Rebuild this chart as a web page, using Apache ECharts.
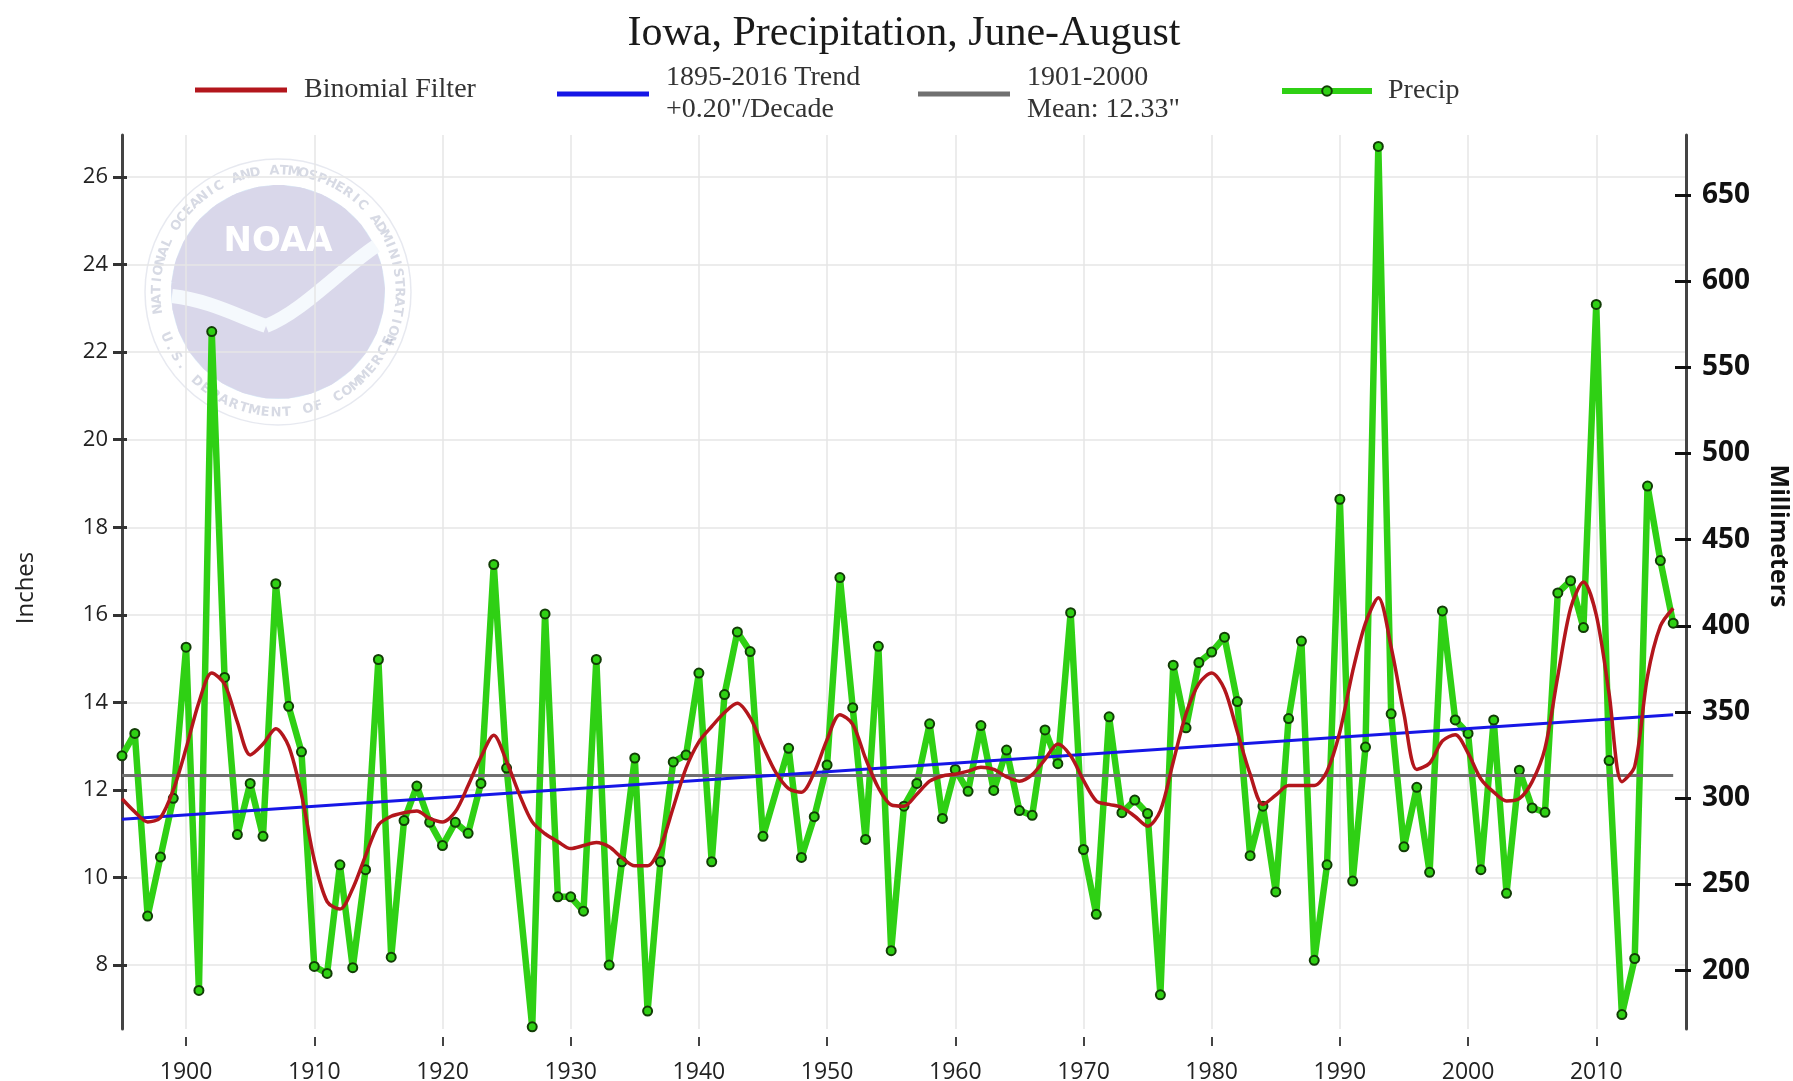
<!DOCTYPE html>
<html>
<head>
<meta charset="utf-8">
<script src="https://cdn.jsdelivr.net/npm/echarts@6/dist/echarts.min.js"></script>
<style>
html,body{margin:0;padding:0;background:#ffffff;}
#chart{width:1793px;height:1081px;}
</style>
</head>
<body>
<div id="chart"></div>
<script>
// ---------------- DATA ----------------
const years = [
  1895,1896,1897,1898,1899,
  1900,1901,1902,1903,1904,1905,1906,1907,1908,1909,
  1910,1911,1912,1913,1914,1915,1916,1917,1918,1919,
  1920,1921,1922,1923,1924,1925,1926,1927,1928,1929,
  1930,1931,1932,1933,1934,1935,1936,1937,1938,1939,
  1940,1941,1942,1943,1944,1945,1946,1947,1948,1949,
  1950,1951,1952,1953,1954,1955,1956,1957,1958,1959,
  1960,1961,1962,1963,1964,1965,1966,1967,1968,1969,
  1970,1971,1972,1973,1974,1975,1976,1977,1978,1979,
  1980,1981,1982,1983,1984,1985,1986,1987,1988,1989,
  1990,1991,1992,1993,1994,1995,1996,1997,1998,1999,
  2000,2001,2002,2003,2004,2005,2006,2007,2008,2009,
  2010,2011,2012,2013,2014,2015,2016
];
// June-August precipitation, inches (null = no marker in source)
const precipInches = [
  12.78,13.29,9.12,10.47,11.81,
  15.26,7.42,22.47,14.57,10.98,12.15,10.94,16.71,13.91,12.87,
  7.97,7.81,10.29,7.94,10.18,14.98,8.18,11.30,12.09,11.26,
  10.73,11.26,11.01,12.15,17.15,12.50,null,6.59,16.02,9.56,
  9.56,9.23,14.98,8.00,10.36,12.73,6.95,10.36,12.64,12.80,
  14.67,10.36,14.18,15.61,15.16,10.94,null,12.95,10.46,11.39,
  12.57,16.85,13.88,10.87,15.28,8.33,11.63,12.15,13.51,11.35,
  12.47,11.97,13.47,11.99,12.91,11.53,11.42,13.37,12.60,16.05,
  10.64,9.16,13.67,11.48,11.77,11.46,7.32,14.85,13.42,14.91,
  15.15,15.49,14.02,10.50,11.63,9.67,13.63,15.40,8.11,10.29,
  18.64,9.92,12.98,26.70,13.74,10.70,12.06,10.12,16.09,13.60,
  13.29,10.18,13.60,9.64,12.45,11.59,11.49,16.50,16.78,15.71,
  23.09,12.67,6.87,8.15,18.94,17.24,15.81
];
// Binomial filter, inches
const binomialFilter = [
  11.80,11.50,11.27,11.37,12.00,
  12.95,14.00,14.67,14.42,13.55,12.80,13.05,13.40,13.00,11.90,
  10.40,9.45,9.28,9.75,10.50,11.20,11.40,11.48,11.52,11.35,
  11.27,11.50,12.10,12.75,13.25,12.65,11.90,11.27,11.00,10.82,
  10.66,10.73,10.80,10.70,10.45,10.27,10.27,10.70,11.60,12.50,
  13.10,13.45,13.77,13.98,13.65,13.00,12.40,12.03,11.95,12.40,
  13.15,13.72,13.50,12.72,12.05,11.66,11.63,11.90,12.20,12.32,
  12.36,12.43,12.52,12.47,12.30,12.20,12.35,12.70,13.05,12.78,
  12.22,11.75,11.67,11.60,11.40,11.17,11.53,12.64,13.74,14.43,
  14.67,14.30,13.33,12.36,11.67,11.88,12.10,12.10,12.10,12.43,
  13.33,14.71,15.81,16.39,15.26,13.74,12.47,12.61,13.12,13.26,
  12.84,12.25,11.95,11.75,11.80,12.19,12.95,14.60,16.15,16.75,
  16.00,14.20,12.19,12.54,14.60,15.74,16.15
];
const trendYears = [1895, 2016];
const trendInches = [11.33, 13.72];
const meanYears = [1895, 2016];
const meanInches = [12.33, 12.33];

const yearTicks = [1900,1910,1920,1930,1940,1950,1960,1970,1980,1990,2000,2010];
const inchTicks = [8,10,12,14,16,18,20,22,24,26];
const mmTicks = [200,250,300,350,400,450,500,550,600,650];

// ---------------- LAYOUT ----------------
const Y_MIN = 6.54, Y_MAX = 26.96, MM_PER_IN = 25.4;
const GRID = {left:122, right:107, top:135, bottom:52};

const pair = (xs, ys) => ys.map((v, i) => [xs[i], v]);

// NOAA watermark (decorative)
function cubicPts(p0, p1, p2, p3, n) {
  const out = [];
  for (let k = 1; k <= n; k++) {
    const t = k / n, u = 1 - t;
    out.push([
      u*u*u*p0[0] + 3*u*u*t*p1[0] + 3*u*t*t*p2[0] + t*t*t*p3[0],
      u*u*u*p0[1] + 3*u*u*t*p1[1] + 3*u*t*t*p2[1] + t*t*t*p3[1]
    ]);
  }
  return out;
}
function buildLogo() {
  const els = [];
  const R = 107;
  els.push({type:'circle', shape:{cx:0, cy:0, r:133}, style:{fill:'rgba(255,255,255,0.6)', stroke:'rgba(215,218,230,0.6)', lineWidth:1.5}});
  els.push({type:'circle', shape:{cx:0, cy:0, r:R}, style:{fill:'#dbedf9'}});
  const a1 = Math.atan2(-10, -106), a2 = Math.atan2(-70, 80) + 2 * Math.PI;
  const pts = [];
  for (let k = 0; k <= 40; k++) {
    const a = a1 + (a2 - a1) * k / 40;
    pts.push([R * Math.cos(a), R * Math.sin(a)]);
  }
  const last = pts[pts.length - 1];
  cubicPts(last, [50, -40], [20, -2], [-12, 18], 20).forEach(p => pts.push(p));
  cubicPts([-12, 18], [-40, 0], [-74, -8], pts[0], 20).forEach(p => pts.push(p));
  els.push({type:'polygon', shape:{points: pts}, style:{fill:'#d9d7ea'}});
  els.push({type:'bezierCurve', shape:{x1:-106, y1:4, cpx1:-70, cpy1:8, cpx2:-40, cpy2:24, x2:-12, y2:34}, style:{fill:null, stroke:'#f5f9fd', lineWidth:14}});
  els.push({type:'bezierCurve', shape:{x1:-12, y1:34, cpx1:24, cpy1:20, cpx2:62, cpy2:-22, x2:98, y2:-46}, style:{fill:null, stroke:'#f5f9fd', lineWidth:14}});
  els.push({type:'text', x:0, y:-50, style:{text:'NOAA', fill:'#ffffff', font:'bold 34px "DejaVu Sans"', align:'center', verticalAlign:'middle'}});
  const ringR = 121;
  const ringFont = 'bold 13px "DejaVu Sans"';
  const ringColor = 'rgba(130,140,170,0.32)';
  const topText = 'NATIONAL OCEANIC AND ATMOSPHERIC ADMINISTRATION';
  const start = 172, end = 383;
  for (let i = 0; i < topText.length; i++) {
    const phi = (start + (end - start) * i / (topText.length - 1)) * Math.PI / 180;
    els.push({type:'text', x: ringR * Math.cos(phi), y: ringR * Math.sin(phi), rotation: 1.5 * Math.PI - phi,
      style:{text: topText[i], fill: ringColor, font: ringFont, align:'center', verticalAlign:'middle'}});
  }
  const botText = 'U.S. DEPARTMENT OF COMMERCE';
  const bs = 158, be = 24;
  for (let i = 0; i < botText.length; i++) {
    const phi = (bs + (be - bs) * i / (botText.length - 1)) * Math.PI / 180;
    els.push({type:'text', x: ringR * Math.cos(phi), y: ringR * Math.sin(phi), rotation: 0.5 * Math.PI - phi,
      style:{text: botText[i], fill: ringColor, font: ringFont, align:'center', verticalAlign:'middle'}});
  }
  return {type:'group', x:278, y:292, z:-10, silent:true, children: els};
}

const serif = '"Liberation Serif", "Times New Roman", serif';
const sans = '"Open Sans", "DejaVu Sans", sans-serif';
const legendText = (padLeft) => ({fontFamily: serif, fontSize: 28, color: '#333', lineHeight: 32, padding: [12, 0, 0, padLeft]});

const GREEN = '#2fd014', RED = '#b3161c', BLUE = '#1616e6', GRAY = '#707070';

const option = {
  backgroundColor: '#ffffff',
  animation: false,
  title: {
    text: 'Iowa, Precipitation, June-August',
    left: 904, top: 13, padding: 0, textAlign: 'center',
    textStyle: {fontFamily: serif, fontSize: 42, fontWeight: 'normal', color: '#1a1a1a'}
  },
  legend: [
    {data:['Binomial Filter'], left:195, top:68, padding:0, icon:'rect', itemWidth:92, itemHeight:5, selectedMode:false, textStyle: legendText(12)},
    {data:['1895-2016 Trend'], left:557, top:56, padding:0, icon:'rect', itemWidth:92, itemHeight:5, selectedMode:false, textStyle: legendText(12),
      formatter: () => '1895-2016 Trend\n+0.20"/Decade'},
    {data:['1901-2000 Mean'], left:918, top:56, padding:0, icon:'rect', itemWidth:92, itemHeight:5, selectedMode:false, textStyle: legendText(12),
      formatter: () => '1901-2000\nMean: 12.33"'},
    {data:['Precip'], left:1279, top:69, padding:0, itemWidth:90, itemHeight:12, selectedMode:false,
      lineStyle: {width: 6}, textStyle: legendText(11)}
  ],
  graphic: [buildLogo()],
  grid: {left: GRID.left, right: GRID.right, top: GRID.top, bottom: GRID.bottom, containLabel: false, outerBoundsMode: 'none'},
  xAxis: {
    type: 'value', min: 1895, max: 2017, offset: 8,
    axisLine: {show: false},
    axisTick: {show: true, length: 9, customValues: yearTicks, lineStyle: {color: '#444', width: 2}},
    axisLabel: {customValues: yearTicks, margin: 24, fontFamily: sans, fontSize: 23, color: '#222', formatter: v => String(v)},
    splitLine: {show: true, lineStyle: {color: '#e6e6e6', width: 1.5}}
  },
  yAxis: [
    {
      type: 'value', position: 'left', min: Y_MIN, max: Y_MAX,
      name: 'Inches', nameLocation: 'middle', nameGap: 84,
      nameTextStyle: {fontFamily: sans, fontSize: 24, color: '#222', padding: [0, 12, 0, 0]},
      axisLine: {show: true, lineStyle: {color: '#444', width: 3}},
      axisTick: {show: true, length: 9, customValues: inchTicks, lineStyle: {color: '#333', width: 3}},
      axisLabel: {customValues: inchTicks, margin: 14, fontFamily: sans, fontSize: 22, color: '#222'},
      splitLine: {show: true, lineStyle: {color: '#e6e6e6', width: 1.5}}
    },
    {
      type: 'value', position: 'right', min: Y_MIN * MM_PER_IN, max: Y_MAX * MM_PER_IN,
      name: 'Millimeters', nameLocation: 'middle', nameGap: 80, nameRotate: -90,
      nameTextStyle: {fontFamily: sans, fontSize: 25, fontWeight: 'bold', color: '#111', padding: [0, 92, 0, 0]},
      axisLine: {show: true, lineStyle: {color: '#444', width: 3}},
      axisTick: {show: true, length: 5, customValues: mmTicks, lineStyle: {color: '#111', width: 3}},
      axisLabel: {customValues: mmTicks, margin: 16, fontFamily: sans, fontSize: 28, fontWeight: 'bold', color: '#111'},
      splitLine: {show: false}
    },
    {
      type: 'value', position: 'left', min: Y_MIN, max: Y_MAX,
      axisLine: {show: false},
      axisTick: {show: true, inside: true, length: 5, customValues: inchTicks, lineStyle: {color: '#333', width: 3}},
      axisLabel: {show: false}, splitLine: {show: false}
    },
    {
      type: 'value', position: 'right', min: Y_MIN * MM_PER_IN, max: Y_MAX * MM_PER_IN,
      axisLine: {show: false},
      axisTick: {show: true, inside: true, length: 11, customValues: mmTicks, lineStyle: {color: '#111', width: 3}},
      axisLabel: {show: false}, splitLine: {show: false}
    }
  ],
  series: [
    {
      name: 'Precip', type: 'line', yAxisIndex: 0, z: 2, clip: false,
      data: pair(years, precipInches), connectNulls: true,
      symbol: 'circle', symbolSize: 9, showSymbol: true,
      lineStyle: {color: GREEN, width: 6.5},
      itemStyle: {color: GREEN, borderColor: '#123d06', borderWidth: 2}
    },
    {
      name: '1901-2000 Mean', type: 'line', yAxisIndex: 0, z: 3,
      data: pair(meanYears, meanInches), symbol: 'none',
      lineStyle: {color: GRAY, width: 3}, itemStyle: {color: GRAY}
    },
    {
      name: '1895-2016 Trend', type: 'line', yAxisIndex: 0, z: 4,
      data: pair(trendYears, trendInches), symbol: 'none',
      lineStyle: {color: BLUE, width: 3}, itemStyle: {color: BLUE}
    },
    {
      name: 'Binomial Filter', type: 'line', yAxisIndex: 0, z: 5,
      data: pair(years, binomialFilter), symbol: 'none', smooth: 0.3,
      lineStyle: {color: RED, width: 3.5}, itemStyle: {color: RED}
    }
  ]
};

const chart = echarts.init(document.getElementById('chart'), null, {renderer: 'canvas'});
chart.setOption(option);
</script>
</body>
</html>
